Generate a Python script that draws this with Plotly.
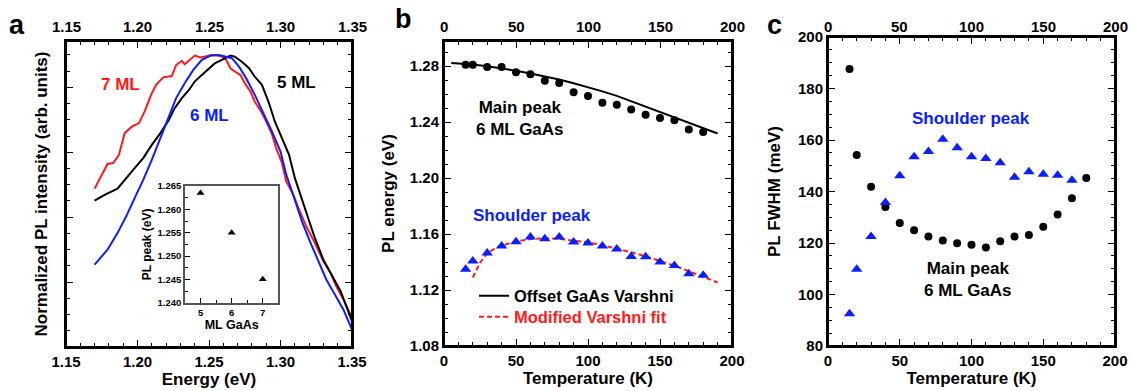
import plotly.graph_objects as go

W, H = 1130, 391
def px(x): return x / W
def py(y): return 1 - y / H

FONT = "Liberation Sans, Arial, Helvetica, sans-serif"
RED = "#ff1a1a"
BLUE = "#0a1eff"
CLEAR = "rgba(0,0,0,0)"

# ---------------- Panel a: normalized PL spectra ----------------
E_7ml = [1.170, 1.174, 1.179, 1.183, 1.187, 1.191, 1.196, 1.201, 1.205, 1.210, 1.213, 1.218,
         1.224, 1.227, 1.231, 1.233, 1.237, 1.240, 1.244, 1.248, 1.252, 1.256, 1.259, 1.262,
         1.265, 1.268, 1.272, 1.275, 1.279, 1.282, 1.287, 1.290, 1.294, 1.297, 1.301, 1.304,
         1.309, 1.313, 1.318, 1.324, 1.330, 1.335, 1.339, 1.344, 1.349, 1.350]
I_7ml = [0.588, 0.621, 0.664, 0.667, 0.692, 0.759, 0.779, 0.790, 0.826, 0.882, 0.908, 0.931,
         0.935, 0.969, 0.982, 0.971, 0.985, 0.998, 0.992, 0.995, 1.000, 0.998, 0.995, 0.985,
         0.959, 0.949, 0.938, 0.913, 0.887, 0.856, 0.821, 0.795, 0.756, 0.713, 0.667, 0.610,
         0.569, 0.523, 0.472, 0.421, 0.364, 0.328, 0.287, 0.246, 0.200, 0.185]

E_6ml = [1.170, 1.179, 1.186, 1.192, 1.198, 1.204, 1.210, 1.216, 1.222, 1.227, 1.233, 1.239,
         1.245, 1.251, 1.257, 1.261, 1.266, 1.271, 1.276, 1.282, 1.288, 1.294, 1.300, 1.304,
         1.309, 1.315, 1.321, 1.327, 1.332, 1.338, 1.344, 1.350]
I_6ml = [0.354, 0.400, 0.451, 0.502, 0.559, 0.615, 0.677, 0.744, 0.810, 0.867, 0.913, 0.954,
         0.985, 0.998, 1.000, 0.995, 0.990, 0.964, 0.928, 0.877, 0.821, 0.764, 0.702, 0.631,
         0.567, 0.487, 0.421, 0.359, 0.308, 0.262, 0.215, 0.154]

E_5ml = [1.170, 1.177, 1.186, 1.190, 1.194, 1.198, 1.204, 1.210, 1.216, 1.222, 1.226, 1.231,
         1.236, 1.240, 1.245, 1.250, 1.254, 1.259, 1.262, 1.265, 1.268, 1.273, 1.278, 1.282,
         1.287, 1.292, 1.296, 1.301, 1.306, 1.310, 1.315, 1.318, 1.324, 1.330, 1.336, 1.342,
         1.346, 1.350]
I_5ml = [0.551, 0.569, 0.588, 0.610, 0.631, 0.651, 0.682, 0.723, 0.759, 0.800, 0.836, 0.867,
         0.892, 0.918, 0.938, 0.959, 0.974, 0.985, 0.992, 0.998, 0.995, 0.979, 0.959, 0.933,
         0.908, 0.851, 0.795, 0.744, 0.692, 0.621, 0.554, 0.513, 0.436, 0.369, 0.318, 0.272,
         0.226, 0.180]

inset_ml = [5, 6, 7]
inset_peak = [1.2635, 1.2550, 1.2450]

top_ticks_energy = [1.15, 1.20, 1.25, 1.30, 1.35]
top_ticks_temp = [0, 50, 100, 150, 200]

# ---------------- Panel b: PL energy vs T ----------------
T_pts = [15, 20, 30, 40, 50, 60, 70, 80, 90, 100, 110, 120, 130, 140, 150, 160, 170, 180]
E_main = [1.2810, 1.2810, 1.2795, 1.2795, 1.2757, 1.2743, 1.2695, 1.2680, 1.2614, 1.2586,
          1.2538, 1.2524, 1.2490, 1.2452, 1.2429, 1.2414, 1.2348, 1.2329]
E_shoulder = [1.1348, 1.1407, 1.1464, 1.1514, 1.1545, 1.1579, 1.1567, 1.1579, 1.1543, 1.1536,
              1.1514, 1.1493, 1.1440, 1.1438, 1.1400, 1.1376, 1.1317, 1.1305]

T_varshni = [5, 10, 20, 30, 40, 50, 60, 70, 80, 90, 100, 110, 120, 130, 140, 150, 160, 170, 180, 190]
E_varshni = [1.2822, 1.2820, 1.2812, 1.2800, 1.2785, 1.2767, 1.2748, 1.2727, 1.2705, 1.2678,
             1.2650, 1.2620, 1.2588, 1.2550, 1.2512, 1.2473, 1.2434, 1.2396, 1.2358, 1.2319]

T_fit = [20, 25, 30, 35, 40, 50, 60, 70, 80, 90, 100, 110, 120, 130, 140, 150, 160, 170, 180, 190]
E_fit = [1.1290, 1.1395, 1.1462, 1.1495, 1.1518, 1.1548, 1.1564, 1.1570, 1.1566, 1.1555,
         1.1540, 1.1521, 1.1498, 1.1470, 1.1441, 1.1410, 1.1374, 1.1335, 1.1297, 1.1254]

# ---------------- Panel c: FWHM vs T ----------------
T_fwhm_main = [15, 20, 30, 40, 50, 60, 70, 80, 90, 100, 110, 120, 130, 140, 150, 160, 170, 180]
fwhm_main = [187.6, 154.2, 141.8, 134.0, 127.8, 125.0, 122.5, 121.0, 119.9, 119.3, 118.3,
             120.7, 122.5, 123.1, 126.3, 131.1, 137.4, 145.2]
T_fwhm_sh = [15, 20, 30, 40, 50, 60, 70, 80, 90, 100, 110, 120, 130, 140, 150, 160, 170]
fwhm_sh = [92.5, 109.8, 122.5, 135.7, 146.1, 153.5, 155.5, 160.3, 157.0, 153.5, 152.8, 151.2,
           145.5, 147.7, 146.7, 146.3, 144.4]

fig = go.Figure()

fig.add_trace(go.Scatter(x=E_7ml, y=I_7ml, mode="lines", line=dict(color=RED, width=2),
                         showlegend=False, xaxis="x", yaxis="y"))
fig.add_trace(go.Scatter(x=E_5ml, y=I_5ml, mode="lines", line=dict(color="black", width=2),
                         showlegend=False, xaxis="x", yaxis="y"))
fig.add_trace(go.Scatter(x=E_6ml, y=I_6ml, mode="lines", line=dict(color=BLUE, width=2),
                         showlegend=False, xaxis="x", yaxis="y"))
fig.add_trace(go.Scatter(x=inset_ml, y=inset_peak, mode="markers",
                         marker=dict(symbol="triangle-up", size=7, color="black"),
                         showlegend=False, xaxis="x4", yaxis="y4"))

fig.add_trace(go.Scatter(x=T_varshni, y=E_varshni, mode="lines", line=dict(color="black", width=2),
                         name="Offset GaAs Varshni", showlegend=True, legend="legend",
                         xaxis="x2", yaxis="y2"))
fig.add_trace(go.Scatter(x=T_fit, y=E_fit, mode="lines",
                         line=dict(color=RED, width=2, dash="5px,3px"),
                         name="<span style='color:%s'>Modified Varshni fit</span>" % RED,
                         showlegend=True, legend="legend2", xaxis="x2", yaxis="y2"))
fig.add_trace(go.Scatter(x=T_pts, y=E_main, mode="markers",
                         marker=dict(symbol="circle", size=8, color="black"),
                         showlegend=False, xaxis="x2", yaxis="y2"))
fig.add_trace(go.Scatter(x=T_pts, y=E_shoulder, mode="markers",
                         marker=dict(symbol="triangle-up", size=10, color=BLUE),
                         showlegend=False, xaxis="x2", yaxis="y2"))

fig.add_trace(go.Scatter(x=T_fwhm_main, y=fwhm_main, mode="markers",
                         marker=dict(symbol="circle", size=8, color="black"),
                         showlegend=False, xaxis="x3", yaxis="y3"))
fig.add_trace(go.Scatter(x=T_fwhm_sh, y=fwhm_sh, mode="markers",
                         marker=dict(symbol="triangle-up", size=10, color=BLUE),
                         showlegend=False, xaxis="x3", yaxis="y3"))


def axis(minor_dtick=None, **kw):
    d = dict(showline=True, linecolor="black", linewidth=2, ticks="inside", ticklen=7,
             tickcolor="black", gridcolor=CLEAR, zerolinecolor=CLEAR, mirror="allticks")
    if minor_dtick is not None:
        d["minor"] = dict(ticks="inside", ticklen=4, dtick=minor_dtick)
    d.update(kw)
    return d

TITLE_FONT = dict(family=FONT, size=17, color="black", weight="bold")
INSET_TICK_FONT = dict(family=FONT, size=9.5, color="black", weight="bold")

xa_dom = [px(66), px(352)]
xb_dom = [px(444), px(732)]
xc_dom = [px(828), px(1115)]
ya_dom = [py(347), py(41)]
yb_dom = [py(346), py(41)]
yc_dom = [py(346), py(37)]

layout = dict(
    template="none",
    width=W, height=H, margin=dict(l=0, r=0, t=0, b=0),
    paper_bgcolor="white", plot_bgcolor="white",
    font=dict(family=FONT, size=15, color="black", weight="bold"),
    # panel a
    xaxis=axis(0.01, domain=xa_dom, anchor="y", range=[1.15, 1.35], dtick=0.05, tick0=1.15,
               tickformat=".2f",
               title=dict(text="Energy (eV)", font=TITLE_FONT, standoff=4)),
    yaxis=axis(0.05, domain=ya_dom, anchor="x", range=[0.1, 1.043], tick0=0.1, dtick=0.2,
               showticklabels=False,
               title=dict(text="Normalized PL intensity (arb. units)", font=TITLE_FONT, standoff=12)),
    # inset
    xaxis4=dict(domain=[px(185), px(278.3)], anchor="y4", range=[4.5, 7.5], dtick=1,
                showline=True, linecolor="#555555", linewidth=1.5, mirror=True,
                ticks="inside", ticklen=5, tickcolor="black", gridcolor=CLEAR, zerolinecolor=CLEAR,
                tickfont=INSET_TICK_FONT,
                minor=dict(ticks="inside", ticklen=3, dtick=0.5),
                title=dict(text="ML GaAs", font=dict(family=FONT, size=12.5, color="black", weight="bold"),
                           standoff=3)),
    yaxis4=dict(domain=[py(302.7), py(186)], anchor="x4", range=[1.24, 1.265], dtick=0.005,
                tick0=1.24, tickformat=".3f", showline=True, linecolor="#555555", linewidth=1.5,
                mirror=True, ticks="inside", ticklen=5, tickcolor="black", gridcolor=CLEAR,
                zerolinecolor=CLEAR, tickfont=INSET_TICK_FONT,
                minor=dict(ticks="inside", ticklen=3, dtick=0.0025),
                title=dict(text="PL peak (eV)", font=dict(family=FONT, size=12, color="black", weight="bold"),
                           standoff=3)),
    # panel b
    xaxis2=axis(10, domain=xb_dom, anchor="y2", range=[0, 200], dtick=50,
                title=dict(text="Temperature (K)", font=TITLE_FONT, standoff=4)),
    yaxis2=axis(0.01, domain=yb_dom, anchor="x2", range=[1.08, 1.298], tick0=1.08, dtick=0.04,
                tickformat=".2f",
                title=dict(text="PL energy (eV)", font=TITLE_FONT, standoff=11)),
    # panel c
    xaxis3=axis(10, domain=xc_dom, anchor="y3", range=[0, 200], dtick=50,
                title=dict(text="Temperature (K)", font=TITLE_FONT, standoff=4)),
    yaxis3=axis(5, domain=yc_dom, anchor="x3", range=[80, 200], tick0=80, dtick=20,
                title=dict(text="PL FWHM (meV)", font=TITLE_FONT, standoff=13)),
    legend=dict(x=px(474), y=py(296), xanchor="left", yanchor="middle", bgcolor=CLEAR,
                font=dict(family=FONT, size=16.5, color="black", weight="bold"), itemwidth=30),
    legend2=dict(x=px(474), y=py(317), xanchor="left", yanchor="middle", bgcolor=CLEAR,
                 font=dict(family=FONT, size=16.5, color="black", weight="bold"), itemwidth=30),
)
fig.update_layout(**layout)

# frame rectangles around the three main plotting areas (paper coordinates of the domains)
frames = []
for xd, yd in [(xa_dom, ya_dom), (xb_dom, yb_dom), (xc_dom, yc_dom)]:
    frames.append(dict(type="rect", xref="paper", yref="paper", x0=xd[0], x1=xd[1],
                       y0=yd[0], y1=yd[1], line=dict(color="black", width=2),
                       fillcolor=CLEAR, layer="above"))
fig.update_layout(shapes=frames)

ann_font = dict(family=FONT, size=17, color="black", weight="bold")
tick_font = dict(family=FONT, size=15, color="black", weight="bold")
def ann(text, x, y, xref, yref, font):
    return dict(text=text, x=x, y=y, xref=xref, yref=yref, showarrow=False,
                xanchor="center", yanchor="middle", font=font)

letter_font = dict(family=FONT, size=27, color="black", weight="bold")
annotations = [
    ann("a", px(17), py(25), "paper", "paper", letter_font),
    ann("b", px(403), py(19), "paper", "paper", letter_font),
    ann("c", px(774), py(25), "paper", "paper", letter_font),
    ann("7 ML", 1.1878, 0.908, "x", "y", dict(ann_font, color=RED)),
    ann("6 ML", 1.2500, 0.812, "x", "y", dict(ann_font, color=BLUE)),
    ann("5 ML", 1.3115, 0.914, "x", "y", ann_font),
    ann("Main peak<br>6 ML GaAs", 52.8, 1.2425, "x2", "y2", ann_font),
    ann("Shoulder peak", 61, 1.1736, "x2", "y2", dict(ann_font, color=BLUE)),
    ann("Shoulder peak", 99.4, 168.2, "x3", "y3", dict(ann_font, color=BLUE)),
    ann("Main peak<br>6 ML GaAs", 97.6, 105.8, "x3", "y3", ann_font),
]
# top-edge tick labels (the reference labels both the top and bottom axes)
for v in top_ticks_energy:
    annotations.append(ann("%.2f" % v, v, py(27), "x", "paper", tick_font))
for v in top_ticks_temp:
    annotations.append(ann("%d" % v, v, py(27), "x2", "paper", tick_font))
    annotations.append(ann("%d" % v, v, py(27), "x3", "paper", tick_font))
fig.update_layout(annotations=annotations)

fig.write_html("out.html", post_script="document.body.style.margin='0';",
               config={"displayModeBar": False})
